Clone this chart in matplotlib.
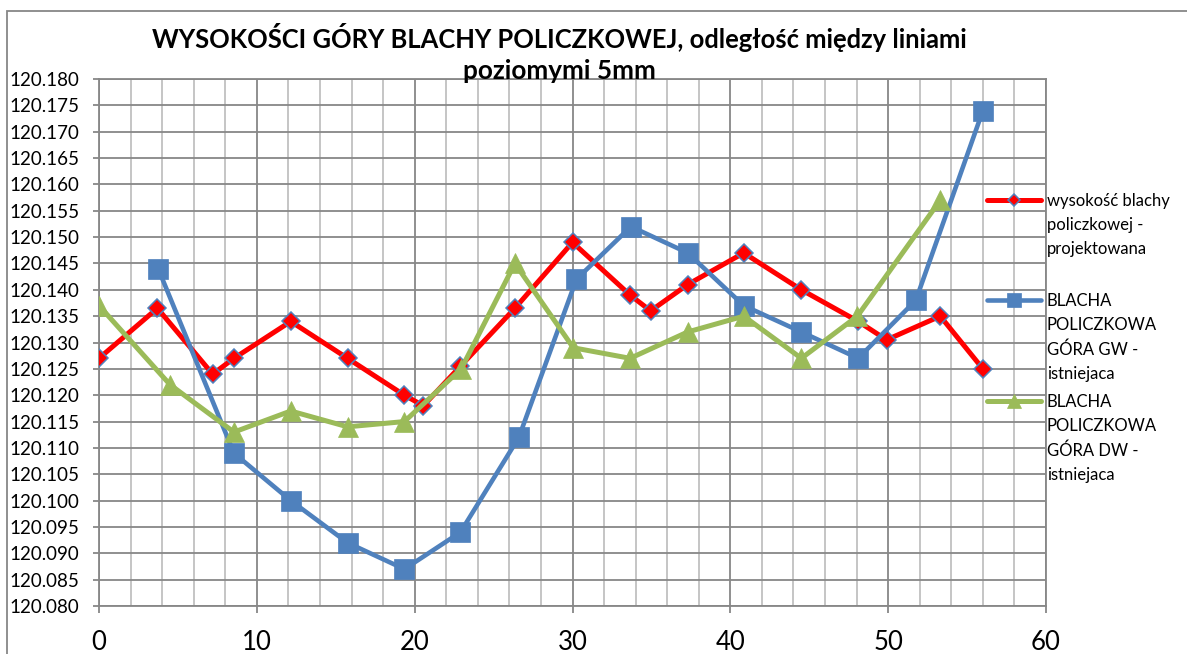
import matplotlib
matplotlib.use("Agg")
import matplotlib.pyplot as plt
from matplotlib.lines import Line2D
from matplotlib.patches import Rectangle
from matplotlib.ticker import MultipleLocator, FormatStrFormatter

plt.rcParams['font.family'] = ['Lato', 'DejaVu Sans']

# odległość [m] / wysokość [m]
x_proj = [0, 3.7, 7.2, 8.55, 12.15, 15.75, 19.35, 20.55, 22.9, 26.35,
          30.0, 33.65, 34.95, 37.3, 40.85, 44.5, 48.1, 49.9, 53.3, 56.0]
y_proj = [120.127, 120.1365, 120.124, 120.127, 120.134, 120.127, 120.120, 120.118, 120.1255, 120.1365,
          120.149, 120.139, 120.136, 120.141, 120.147, 120.140, 120.134, 120.1305, 120.135, 120.125]

x_gw = [3.75, 8.55, 12.15, 15.75, 19.35, 22.9, 26.6, 30.25, 33.7, 37.3,
        40.85, 44.5, 48.1, 51.75, 56.0]
y_gw = [120.144, 120.109, 120.100, 120.092, 120.087, 120.094, 120.112, 120.142, 120.152, 120.147,
        120.137, 120.132, 120.127, 120.138, 120.174]

x_dw = [0, 4.5, 8.55, 12.15, 15.75, 19.35, 22.95, 26.35, 30.05, 33.65,
        37.3, 40.85, 44.5, 48.05, 53.3]
y_dw = [120.137, 120.122, 120.113, 120.117, 120.114, 120.115, 120.125, 120.145, 120.129, 120.127,
        120.132, 120.135, 120.127, 120.135, 120.157]

labels = ['wysokość blachy\npoliczkowej -\nprojektowana',
          'BLACHA\nPOLICZKOWA\nGÓRA GW -\nistniejaca',
          'BLACHA\nPOLICZKOWA\nGÓRA DW -\nistniejaca']

W, H = 1187, 654
fig = plt.figure(figsize=(W / 100, H / 100), dpi=100)
ax = fig.add_axes([99 / W, 1 - 606 / H, (1046 - 99) / W, (606 - 79) / H])

grid_dark = '#878787'
grid_light = '#c0c0c0'

styles = [
    dict(color='#ff0000', lw=3.6, marker='D', ms=9, mfc='#ff0000', mec='#4f81bd', mew=1.1, zorder=3),
    dict(color='#4f81bd', lw=3.3, marker='s', ms=14, mfc='#4f81bd', mec='#4f81bd', mew=0.5, zorder=4),
    dict(color='#9bbb59', lw=3.6, marker='^', ms=15, mfc='#9bbb59', mec='#9bbb59', mew=0.5, zorder=5),
]
ax.plot(x_proj, y_proj, **styles[0])
ax.plot(x_gw, y_gw, **styles[1])
ax.plot(x_dw, y_dw, **styles[2])

ax.set_xlim(0, 60)
ax.set_ylim(120.080, 120.180)
ax.xaxis.set_major_locator(MultipleLocator(10))
ax.xaxis.set_minor_locator(MultipleLocator(2))
ax.yaxis.set_major_locator(MultipleLocator(0.005))
ax.yaxis.set_major_formatter(FormatStrFormatter('%.3f'))

ax.grid(which='minor', axis='x', color=grid_light, lw=1.3)
ax.grid(which='major', axis='x', color=grid_dark, lw=1.3)
ax.grid(which='major', axis='y', color=grid_dark, lw=1.3)
ax.set_axisbelow(True)
for s in ax.spines.values():
    s.set_color(grid_dark)
    s.set_linewidth(1.3)

ax.tick_params(axis='y', which='major', length=4, width=1.3, color=grid_dark, pad=10, labelsize=13.5)
ax.tick_params(axis='x', which='major', length=5, width=1.3, color=grid_dark, pad=12, labelsize=18.5)
ax.tick_params(axis='x', which='minor', length=0)

# tytuł
fig.text(559 / W, 1 - 37 / H, 'WYSOKOŚCI GÓRY BLACHY POLICZKOWEJ, odległość między liniami',
         ha='center', va='center', fontsize=18.4, fontweight='bold', zorder=10)
fig.text(559 / W, 1 - 71 / H, 'poziomymi 5mm',
         ha='center', va='center', fontsize=18.8, fontweight='bold', zorder=10)

# legenda
leg_y = [200, 300, 401]
for st, lab, y in zip(styles, labels, leg_y):
    fy = 1 - y / H
    fig.add_artist(Line2D([987 / W, 1041 / W], [fy, fy], color=st['color'], lw=st['lw'],
                          solid_capstyle='round', zorder=10))
    fig.add_artist(Line2D([1014 / W], [fy], ls='none', marker=st['marker'],
                          ms=st['ms'] * 0.7, mfc=st['mfc'], mec=st['mec'], mew=st['mew'], zorder=11))
    fig.text(1047 / W, fy + 7 / H, lab, ha='left', va='top', fontsize=12,
             linespacing=1.62, zorder=10)

# ramka wykresu
fig.add_artist(Rectangle((7 / W, -0.2), 2, 1.2 - 11 / H, transform=fig.transFigure,
                         fill=False, ec=grid_dark, lw=1.3, clip_on=False))

fig.savefig('out.png', dpi=100)
